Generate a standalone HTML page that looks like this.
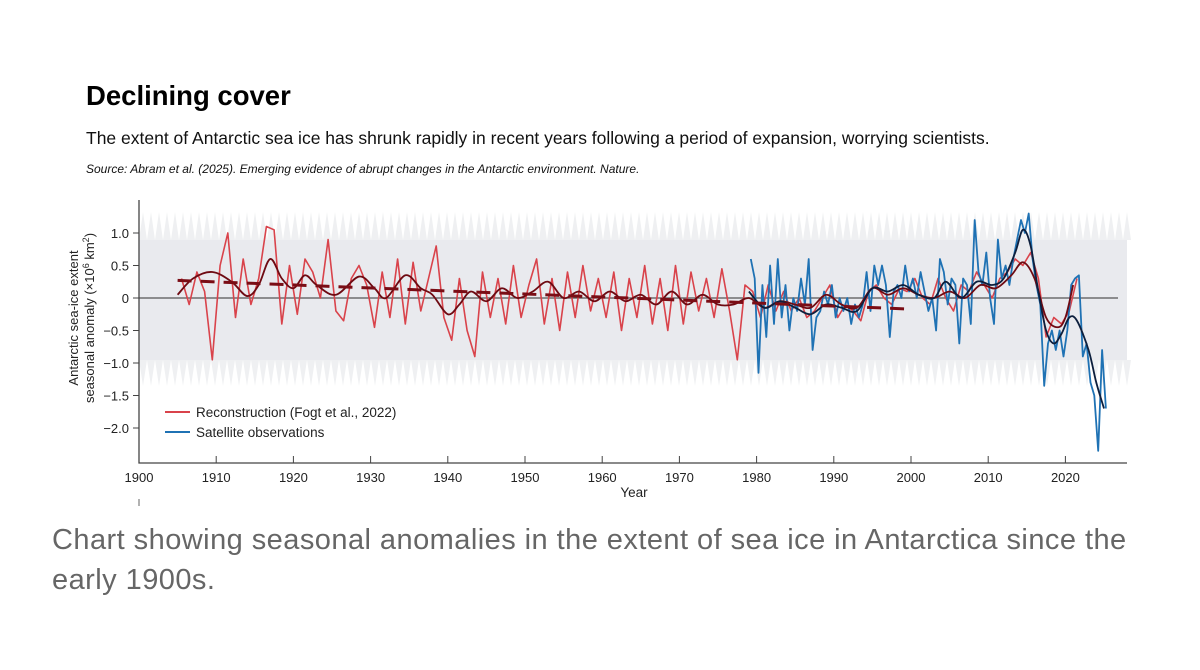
<!DOCTYPE html>
<html><head><meta charset="utf-8"><style>
body{margin:0;background:#fff;width:1200px;height:670px;overflow:hidden;font-family:"Liberation Sans",sans-serif;position:relative}
.t{position:absolute;white-space:nowrap}
</style></head><body>
<div class="t" style="left:86px;top:80px;font-size:27.5px;font-weight:bold;color:#000">Declining cover</div>
<div class="t" style="left:86px;top:128px;font-size:17.5px;color:#111">The extent of Antarctic sea ice has shrunk rapidly in recent years following a period of expansion, worrying scientists.</div>
<div class="t" style="left:86px;top:162px;font-size:12px;font-style:italic;color:#111">Source: Abram et al. (2025). Emerging evidence of abrupt changes in the Antarctic environment. Nature.</div>
<svg id="chart" width="1200" height="520" style="position:absolute;left:0;top:0" xmlns="http://www.w3.org/2000/svg"></svg>
<div class="t" style="left:52px;top:520px;font-size:29px;letter-spacing:0.45px;color:#666;line-height:40px">Chart showing seasonal anomalies in the extent of sea ice in Antarctica since the<br>early 1900s.</div>
<script>
const reconYears0=1905;
const reconVals=[0.3,-0.1,0.4,0.1,-0.95,0.5,1.0,-0.3,0.6,-0.1,0.3,1.1,1.05,-0.4,0.5,-0.25,0.6,0.4,0.0,0.9,-0.2,-0.35,0.3,0.5,0.2,-0.45,0.4,-0.3,0.6,-0.4,0.55,-0.2,0.3,0.8,-0.3,-0.65,0.3,-0.5,-0.9,0.4,-0.3,0.3,-0.4,0.5,-0.3,0.2,0.6,-0.4,0.3,-0.5,0.4,-0.3,0.5,-0.2,0.3,-0.3,0.4,-0.5,0.3,-0.3,0.5,-0.4,0.3,-0.5,0.5,-0.4,0.4,-0.2,0.3,-0.3,0.45,-0.2,-0.95,0.2,0.1,-0.3,0.2,-0.2,0.1,-0.2,0.0,-0.3,-0.2,0.0,0.2,-0.3,-0.1,-0.2,-0.35,0.1,0.2,0.0,-0.1,0.15,0.1,0.3,0.0,-0.1,0.3,0.0,-0.2,0.2,0.1,0.4,0.2,0.0,0.3,0.4,0.6,0.5,0.7,0.3,-0.6,-0.3,-0.4,-0.2,0.3];
const satStart=1979;
const satVals=[0.6,0.3,-1.15,0.2,-0.6,0.5,-0.4,0.6,-0.3,0.2,-0.5,0.0,-0.2,0.3,-0.1,0.6,-0.8,-0.3,-0.2,0.1,-0.1,0.2,-0.3,0.0,-0.2,0.0,-0.4,-0.1,-0.3,-0.1,0.4,-0.2,0.5,0.2,0.5,0.2,-0.6,0.1,0.2,0.0,0.5,0.1,0.3,0.0,0.4,0.1,-0.2,0.0,-0.5,0.6,0.4,-0.1,0.3,0.2,-0.7,0.3,0.2,-0.4,1.2,0.4,0.2,0.7,0.0,-0.4,0.9,0.3,0.5,0.2,0.6,0.9,1.2,1.0,1.3,0.6,0.2,-0.1,-1.35,-0.7,-0.5,-0.8,-0.5,-0.9,-0.5,0.2,0.3,0.35,-0.9,-0.7,-1.3,-1.5,-2.35,-0.8,-1.7];
const smoothRedYears=[1905,1907,1909.5,1912,1914,1915.5,1917,1918.5,1920,1921.5,1923,1925.5,1928.5,1930.5,1932,1934.5,1936.5,1938,1940,1941.5,1943,1945,1947,1949,1951,1953,1955,1957,1959,1961,1963,1965,1967,1969,1971,1973,1975,1977,1979,1981,1983,1985,1987,1989,1991,1993,1995,1997,1999,2001,2003,2005,2007,2009,2011,2013,2014.5,2016,2017.5,2019,2020,2021];
const smoothRedVals=[0.05,0.3,0.4,0.25,0.03,0.2,0.6,0.3,0.15,0.35,0.2,0.05,0.33,0.15,0.0,0.35,0.15,0.05,-0.25,-0.1,0.1,-0.05,0.15,0.0,0.1,0.25,0.0,0.1,-0.05,0.1,-0.05,0.05,-0.1,0.1,-0.1,0.05,-0.1,-0.1,0.0,-0.15,-0.05,-0.1,-0.15,0.05,-0.1,-0.15,0.15,0.05,0.15,0.05,0.0,0.1,0.0,0.2,0.15,0.35,0.55,0.3,-0.3,-0.45,-0.3,0.2];
const smoothSatYears=[1979,1981,1983,1985,1987,1989,1991,1993,1995,1997,1999,2001,2003,2004.5,2006.5,2008.5,2010.5,2012,2013.5,2014.5,2015.5,2016.5,2017.5,2018.5,2019.5,2020.5,2021.5,2023,2024,2025];
const smoothSatVals=[0.1,-0.15,-0.05,-0.15,-0.25,-0.1,-0.15,-0.2,0.15,0.1,0.2,0.05,0.0,0.25,0.0,0.25,0.2,0.3,0.7,1.05,0.8,0.1,-0.5,-0.7,-0.55,-0.3,-0.35,-0.8,-1.3,-1.7];
const trendYears=[1905,2000];
const trendVals=[0.27,-0.17];
const xTicks=[1900,1910,1920,1930,1940,1950,1960,1970,1980,1990,2000,2010,2020];
const yTicks=[1.0,0.5,0,-0.5,-1.0,-1.5,-2.0];
const yTickLabels=["1.0","0.5","0","\u22120.5","\u22121.0","\u22121.5","\u22122.0"];

const NS="http://www.w3.org/2000/svg";
const svg=document.getElementById('chart');
const X=y=>139+(y-1900)*7.72;
const Y=v=>298-v*65;
function mk(t,a,p){const e=document.createElementNS(NS,t);for(const k in a)e.setAttribute(k,a[k]);(p||svg).appendChild(e);return e;}
let band=mk('rect',{x:139,y:240,width:988,height:120,fill:'#e9eaee'});

let d='M139,240';for(let x=139;x<1127;x+=8){d+=` L${x+4},212 L${x+8},240`;}d+=' Z';
let bt=mk('path',{d:d,fill:'#eff0f2'});
d='M139,360';for(let x=139;x<1127;x+=8){d+=` L${x+4},386 L${x+8},360`;}d+=' Z';
let bb=mk('path',{d:d,fill:'#eff0f2'});
let z=mk('line',{x1:139,x2:1118,y1:Y(0),y2:Y(0),stroke:'#555','stroke-width':1.2});

let ax=mk('path',{d:'M139,200 L139,463 L1127,463',fill:'none',stroke:'#444','stroke-width':1.3});

yTicks.forEach((v,i)=>{mk('line',{x1:139,x2:133,y1:Y(v),y2:Y(v),stroke:'#444'});
 let t=mk('text',{x:129,y:Y(v)+5,'text-anchor':'end','font-size':13,fill:'#222'});t.textContent=yTickLabels[i];
 });
xTicks.forEach(v=>{mk('line',{x1:X(v),x2:X(v),y1:463,y2:456,stroke:'#444'});
 let t=mk('text',{x:X(v),y:482,'text-anchor':'middle','font-size':13,fill:'#222'});t.textContent=v;
 });
let xt=mk('text',{x:634,y:497,'text-anchor':'middle','font-size':13.5,fill:'#222'});xt.textContent='Year';

let yt=mk('text',{transform:'translate(78,318) rotate(-90)','text-anchor':'middle','font-size':13,fill:'#222'});

let s1=mk('tspan',{x:0,dy:0},yt);s1.textContent='Antarctic sea-ice extent';
let s2=mk('tspan',{x:0,dy:16},yt);s2.innerHTML='seasonal anomaly (×10<tspan font-size="9" dy="-5">6</tspan><tspan dy="5"> km</tspan><tspan font-size="9" dy="-5">2</tspan><tspan dy="5">)</tspan>';
mk('line',{x1:139,x2:139,y1:499,y2:506,stroke:'#666'});
function line(xs,vs,col,w,name,dash){let p=xs.map((x,i)=>(i?'L':'M')+X(x).toFixed(1)+','+Y(vs[i]).toFixed(1)).join(' ');
 let e=mk('path',{d:p,fill:'none',stroke:col,'stroke-width':w,'stroke-linejoin':'round'});if(dash)e.setAttribute('stroke-dasharray',dash);
 return e;}
function smooth(xs,vs,col,w,name){const P=xs.map((x,i)=>[X(x),Y(vs[i])]);let p='M'+P[0][0]+','+P[0][1];
 for(let i=0;i<P.length-1;i++){const p0=P[i-1]||P[i],p1=P[i],p2=P[i+1],p3=P[i+2]||p2;
  p+=` C${p1[0]+(p2[0]-p0[0])/6},${p1[1]+(p2[1]-p0[1])/6} ${p2[0]-(p3[0]-p1[0])/6},${p2[1]-(p3[1]-p1[1])/6} ${p2[0]},${p2[1]}`;}
 let e=mk('path',{d:p,fill:'none',stroke:col,'stroke-width':w});}
line(reconVals.map((v,i)=>reconYears0+i+0.5),reconVals,'#d9434b',1.6,'reconstruction-line');
line(satVals.map((v,i)=>satStart+i*0.5+0.25),satVals,'#1f72b4',1.8,'satellite-line');
smooth(smoothRedYears,smoothRedVals,'#6e0a12',1.8,'reconstruction-smoothed');
smooth(smoothSatYears,smoothSatVals,'#0d1f3d',1.8,'satellite-smoothed');
line(trendYears,trendVals,'#7a0d15',3,'reconstruction-trend','14,9');
let lg=mk('g',{});
mk('line',{x1:165,x2:190,y1:412,y2:412,stroke:'#d9434b','stroke-width':2},lg);
let l1=mk('text',{x:196,y:417,'font-size':13.5,fill:'#222'},lg);l1.textContent='Reconstruction (Fogt et al., 2022)';

mk('line',{x1:165,x2:190,y1:432,y2:432,stroke:'#1f72b4','stroke-width':2},lg);
let l2=mk('text',{x:196,y:437,'font-size':13.5,fill:'#222'},lg);l2.textContent='Satellite observations';

</script>
</body></html>
